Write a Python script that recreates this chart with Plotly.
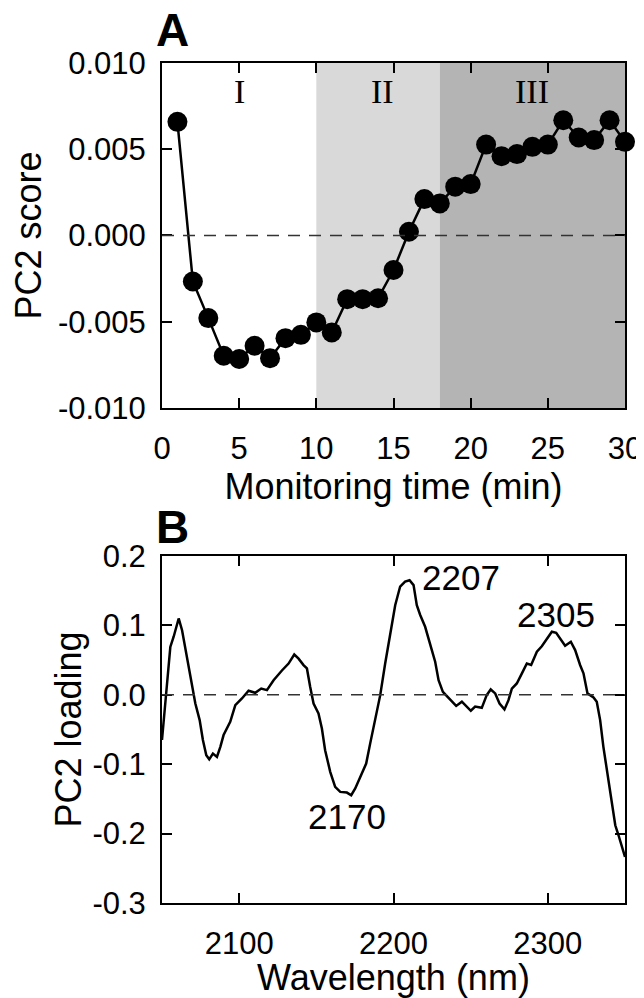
import plotly.graph_objects as go

# ---------------- Data ----------------
time_min = list(range(1, 31))
pc2_score = [0.00659, -0.00267, -0.00479, -0.00697, -0.00716, -0.00639, -0.00711,
             -0.00595, -0.00576, -0.00504, -0.00562, -0.00369, -0.00369, -0.00364,
             -0.00200, 0.00022, 0.00211, 0.00186, 0.00283, 0.00298, 0.00527,
             0.00460, 0.00472, 0.00514, 0.00527, 0.00668, 0.00568, 0.00553,
             0.00668, 0.00543]

wavelength = [2050, 2052.2, 2055.4, 2057.6, 2060.8, 2063, 2066.2, 2069.4, 2071.6, 2074.4,
              2076.5, 2078.7, 2080.6, 2083, 2085.6, 2087.8, 2089.9, 2094.2, 2097.5, 2101.8,
              2106.1, 2110.4, 2114.3, 2118, 2122.3, 2127.7, 2132, 2135.7, 2138.5, 2141.7,
              2143.9, 2146, 2148.2, 2151.4, 2153.6, 2155.7, 2159, 2162.2, 2165.5, 2169.8,
              2172.6, 2175.2, 2178.4, 2182.3, 2184.9, 2188.1, 2191.4, 2194.6, 2197.8, 2201.1,
              2204.3, 2207.5, 2210.4, 2213, 2215.1, 2217.3, 2220.5, 2223.8, 2227, 2229.2,
              2232, 2234.6, 2237.8, 2240.6, 2244.3, 2247.1, 2250.1, 2252.9, 2257.2, 2260.4,
              2263, 2265.9, 2268.7, 2271.9, 2274.5, 2276.7, 2279.9, 2283.2, 2286.4, 2289.2,
              2292.9, 2296.1, 2299.4, 2302.6, 2305.4, 2308, 2311.2, 2314.9, 2317.7, 2320.9,
              2323.1, 2325.7, 2329.6, 2331.7, 2333.9, 2336, 2338.6, 2341.5, 2343.7, 2345.8,
              2350]
pc2_loading = [-0.065, -0.008, 0.069, 0.084, 0.110, 0.093, 0.055, 0.016, -0.0125, -0.0365,
               -0.065, -0.087, -0.093, -0.0846, -0.0894, -0.075, -0.058, -0.039, -0.015, -0.0053,
               0.0058, 0.0029, 0.009, 0.0067, 0.021, 0.035, 0.045, 0.058, 0.052, 0.0428,
               0.038, 0.0115, -0.0125, -0.027, -0.0486, -0.0798, -0.111, -0.1327, -0.1399, -0.1409,
               -0.1447, -0.135, -0.118, -0.099, -0.070, -0.0365, -0.0005, 0.045, 0.0885, 0.129,
               0.156, 0.163, 0.165, 0.158, 0.129, 0.115, 0.098, 0.074, 0.0476, 0.021,
               0.0043, -0.002, -0.0087, -0.016, -0.010, -0.017, -0.023, -0.017, -0.0188, -0.0005,
               0.0077, 0.002, -0.0125, -0.021, -0.0077, 0.009, 0.0163, 0.0308, 0.045, 0.043,
               0.062, 0.070, 0.081, 0.0909, 0.0894, 0.081, 0.0707, 0.0764, 0.0644, 0.043,
               0.031, 0.002, -0.0038, -0.010, -0.0365, -0.075, -0.1135, -0.152, -0.188, -0.2024,
               -0.2337]

phase_labels = ["I", "II", "III"]
phase_label_x = [5, 14.3, 24]
phase_label_y = 0.00832
phase_start = [0, 10, 18]
phase_end = [10, 18, 30]
phase_colors = ["#ffffff", "#d9d9d9", "#b4b4b4"]

peak_labels = ["2207", "2305", "2170"]
peak_label_x = [2243.7, 2305.2, 2170]
peak_label_y = [0.1697, 0.116, -0.176]

score_ticks = [-0.010, -0.005, 0.0, 0.005, 0.010]
score_ticktext = ["-0.010", "-0.005", "0.000", "0.005", "0.010"]
time_ticks = [0, 5, 10, 15, 20, 25, 30]
load_ticks = [-0.3, -0.2, -0.1, 0.0, 0.1, 0.2]
load_ticktext = ["-0.3", "-0.2", "-0.1", "0.0", "0.1", "0.2"]
wl_ticks = [2100, 2200, 2300]

FONT = "Liberation Sans, Arial, sans-serif"

# ---------------- Figure ----------------
fig = go.Figure()

fig.add_trace(go.Scatter(
    x=time_min, y=pc2_score, mode="lines+markers",
    line=dict(color="black", width=2.5),
    marker=dict(color="black", size=20),
    cliponaxis=False,
    xaxis="x", yaxis="y", showlegend=False, hoverinfo="skip"))

fig.add_trace(go.Scatter(
    x=wavelength, y=pc2_loading, mode="lines",
    line=dict(color="black", width=2.5),
    xaxis="x2", yaxis="y2", showlegend=False, hoverinfo="skip"))

shapes = []
for s, e, c in zip(phase_start, phase_end, phase_colors):
    shapes.append(dict(type="rect", xref="x", yref="y domain", x0=s, x1=e, y0=0, y1=1,
                       fillcolor=c, line=dict(width=0), layer="below"))
shapes.append(dict(type="line", xref="x domain", yref="y", x0=0, x1=1, y0=0, y1=0,
                   line=dict(color="#333333", width=1.5, dash="12px,9px"), layer="above"))
shapes.append(dict(type="line", xref="x2 domain", yref="y2", x0=0, x1=1, y0=0, y1=0,
                   line=dict(color="#333333", width=1.5, dash="12px,9px"), layer="above"))

annotations = []
for lab, xv in zip(phase_labels, phase_label_x):
    annotations.append(dict(text=lab, x=xv, y=phase_label_y, xref="x", yref="y",
                            showarrow=False, xanchor="center", yanchor="middle",
                            font=dict(family="Liberation Serif, Times New Roman, serif",
                                      size=34, color="black")))
for lab, xv, yv in zip(peak_labels, peak_label_x, peak_label_y):
    annotations.append(dict(text=lab, x=xv, y=yv, xref="x2", yref="y2",
                            showarrow=False, xanchor="center", yanchor="middle",
                            font=dict(family=FONT, size=35, color="black")))
annotations.append(dict(text="<b>A</b>", x=-0.017, y=1.0393, xref="paper", yref="paper",
                        showarrow=False, xanchor="left", yanchor="middle",
                        font=dict(family=FONT, size=46, color="black")))
annotations.append(dict(text="<b>B</b>", x=-0.017, y=0.448, xref="paper", yref="paper",
                        showarrow=False, xanchor="left", yanchor="middle",
                        font=dict(family=FONT, size=46, color="black")))

axis_common = dict(showline=True, linecolor="black", linewidth=2, mirror="ticks",
                   ticks="inside", ticklen=10, tickwidth=2, tickcolor="black",
                   showgrid=False, zeroline=False, automargin=False,
                   tickfont=dict(family=FONT, size=31, color="black"))
title_font = dict(family=FONT, size=36, color="black")

# The page body has an 8px margin, so the figure is 8px smaller and margins shifted.
fig.update_layout(
    template="none",
    width=636, height=990, autosize=False,
    margin=dict(l=154, r=19, t=55, b=95, pad=0),
    paper_bgcolor="white", plot_bgcolor="white",
    shapes=shapes, annotations=annotations,
    xaxis=dict(domain=[0, 1], anchor="y", range=[0, 30], tickvals=time_ticks,
               ticklabelstandoff=12,
               title=dict(text="Monitoring time (min)", font=title_font, standoff=0),
               **axis_common),
    yaxis=dict(domain=[0.5893, 1], anchor="x", range=[-0.010, 0.010],
               tickvals=score_ticks, ticktext=score_ticktext, ticklabelstandoff=8,
               title=dict(text="PC2 score", font=title_font, standoff=7),
               **axis_common),
    xaxis2=dict(domain=[0, 1], anchor="y2", range=[2050, 2350], tickvals=wl_ticks,
                ticklabelstandoff=12,
                title=dict(text="Wavelength (nm)", font=title_font, standoff=0),
                **axis_common),
    yaxis2=dict(domain=[0, 0.4131], anchor="x2", range=[-0.3, 0.2],
                tickvals=load_ticks, ticktext=load_ticktext, ticklabelstandoff=8,
                title=dict(text="PC2 loading", font=title_font, standoff=0),
                **axis_common),
)

fig.write_html("out.html")
